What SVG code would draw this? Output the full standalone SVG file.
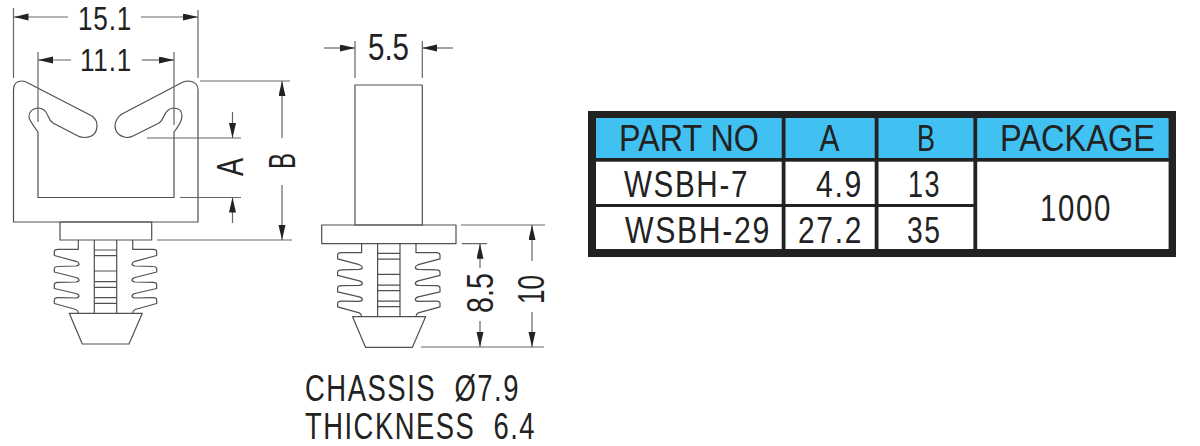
<svg xmlns="http://www.w3.org/2000/svg" xmlns:xlink="http://www.w3.org/1999/xlink" width="1200" height="446" viewBox="0 0 1200 446">
<style>
.o{fill:none;stroke:#505050;stroke-width:1.2;stroke-linejoin:round}
.e{fill:none;stroke:#666;stroke-width:1.2}
.d{fill:none;stroke:#666;stroke-width:1.2;marker-end:url(#ah)}
.t{font-family:"Liberation Sans",Arial,sans-serif;fill:#222;font-size:36px;white-space:pre}
.c{font-size:37px}
.n{font-size:36px;letter-spacing:2px}
.b{fill:#222}
.h{fill:#40c1f2}
.w{fill:#fff}
</style>
<defs>
<marker id="ah" markerUnits="userSpaceOnUse" markerWidth="15" markerHeight="8" refX="15" refY="3.5" orient="auto"><path d="M0 0L15 3.5L0 7Z" fill="#222"/></marker>
<g id="half">
<path class="o" d="M78.3 240V249.3H58Q54.3 249.3 54.3 252V255.5L76 261.3Q79 262.5 79 264Q79 265.5 76 266L58 266.5Q54.3 266.5 54.3 269V272L76 277.5Q79 278.5 79 280Q79 281.5 76 282L58 282.3Q54.3 282.3 54.3 285V288.5L76 293.5Q79 294.5 79 296Q79 297.5 76 298L58 297.7Q54.3 297.7 54.3 300V303.5L76 309.5Q78.3 310.5 78.3 313.3"/>
</g>
<g id="fir">
<use xlink:href="#half" href="#half"/>
<use xlink:href="#half" href="#half" transform="matrix(-1 0 0 1 211 0)"/>
<path class="o" d="M94.3 240V313.3M116.7 240V313.3M94.3 250H116.7M94.3 255.7H116.7M94.3 271H116.7M94.3 281.7H116.7M94.3 287.3H116.7M94.3 297.7H116.7M94.3 303.3H116.7"/>
<path class="o" d="M69.3 313.3H142.3L129 344H82.3Z"/>
</g>
</defs>
<rect width="1200" height="446" fill="#fff"/>
<g id="clip-front">
<path class="o" d="M13.5 222V90Q13.5 81 22 81Q25 81 28 83L92 116Q97 120 97 125Q97 137 85 137.5Q81 137.5 78 136L53 123Q50 121 48 116Q45 108 38 108Q29 109 29 117Q29 120 38 132V197.5H174V132Q182 122 182 116Q182 108 173 108Q167 109 164 116Q162 121 159 123L133 136Q130 137.5 127 137.5Q115 136 115 125Q116 118 122 114L183 82Q186 81 189 81Q198 82 198 90V222Z"/>
<rect class="o" x="60" y="222" width="91.7" height="18"/>
<use xlink:href="#fir" href="#fir"/>
</g>
<g id="clip-side">
<rect class="o" x="355" y="85" width="67.3" height="140"/>
<rect class="o" x="321.7" y="225" width="134.3" height="18.7"/>
<use xlink:href="#fir" href="#fir" transform="translate(283.3 3.4)"/>
</g>
<g id="connectors">
<path class="e" d="M13.5 8V78M198 10V78M38 52V122M174 52V125M147 138H241M180 197.5H241M200 81H290M157 240H292M355 41V78M422.3 41V78M461 225H545M462 243.7H487M421 347H544"/>
<path class="d" d="M68 17H13.5"/><path class="d" d="M141 17H198"/>
<path class="d" d="M71 60H38"/><path class="d" d="M142 60H174"/>
<path class="d" d="M232.5 112V138"/><path class="d" d="M232.5 223V197.5"/>
<path class="d" d="M282 138V81"/><path class="d" d="M282 185V240"/>
<path class="d" d="M324 48H355"/><path class="d" d="M453 48H422.3"/>
<path class="d" d="M480 268V243.7"/><path class="d" d="M480 321V347"/>
<path class="d" d="M532 261V225"/><path class="d" d="M532 312V347"/>
</g>
<g id="dimension-labels">
<text class="t" x="78" y="30" style="font-size:33px;letter-spacing:1px" textLength="54" lengthAdjust="spacingAndGlyphs">15.1</text>
<text class="t" x="80" y="71" style="font-size:32px;letter-spacing:1px" textLength="52" lengthAdjust="spacingAndGlyphs">11.1</text>
<text class="t" transform="translate(243 176) rotate(-90)" textLength="18" lengthAdjust="spacingAndGlyphs">A</text>
<text class="t" transform="translate(295 169) rotate(-90)" textLength="16" lengthAdjust="spacingAndGlyphs">B</text>
<text class="t" x="368" y="60" textLength="41" lengthAdjust="spacingAndGlyphs">5.5</text>
<text class="t" transform="translate(493 313) rotate(-90)" style="font-size:37px" textLength="40" lengthAdjust="spacingAndGlyphs">8.5</text>
<text class="t" transform="translate(544 304) rotate(-90)" textLength="29" lengthAdjust="spacingAndGlyphs">10</text>
</g>
<g id="note">
<text class="t n" x="305" y="400.5" textLength="215" lengthAdjust="spacingAndGlyphs">CHASSIS  Ø7.9</text>
<text class="t n" x="305" y="439" textLength="231" lengthAdjust="spacingAndGlyphs">THICKNESS  6.4</text>
</g>
<g id="table">
<rect class="b" x="588" y="111" width="588" height="146"/>
<rect class="h" x="596" y="118" width="185.7" height="40"/>
<rect class="h" x="785.5" y="118" width="89.2" height="40"/>
<rect class="h" x="878.5" y="118" width="94.9" height="40"/>
<rect class="h" x="977.2" y="118" width="191.4" height="40"/>
<rect class="w" x="596" y="161.7" width="185.7" height="42.3"/>
<rect class="w" x="785.5" y="161.7" width="89.2" height="42.3"/>
<rect class="w" x="878.5" y="161.7" width="94.9" height="42.3"/>
<rect class="w" x="596" y="207" width="185.7" height="42"/>
<rect class="w" x="785.5" y="207" width="89.2" height="42"/>
<rect class="w" x="878.5" y="207" width="94.9" height="42"/>
<rect class="w" x="977.2" y="161.7" width="191.4" height="87.3"/>
<text class="t c" x="619" y="150.5" textLength="140" lengthAdjust="spacingAndGlyphs">PART NO</text>
<text class="t c" x="819.5" y="150.5" textLength="20" lengthAdjust="spacingAndGlyphs">A</text>
<text class="t c" x="917" y="150.5" textLength="18" lengthAdjust="spacingAndGlyphs">B</text>
<text class="t c" x="1000" y="150.5" textLength="155" lengthAdjust="spacingAndGlyphs">PACKAGE</text>
<text class="t n" x="624" y="196.5" textLength="125" lengthAdjust="spacingAndGlyphs">WSBH-7</text>
<text class="t n" x="816" y="196.5" textLength="47" lengthAdjust="spacingAndGlyphs">4.9</text>
<text class="t n" x="908" y="196.5" textLength="33" lengthAdjust="spacingAndGlyphs">13</text>
<text class="t n" x="625" y="243" textLength="146" lengthAdjust="spacingAndGlyphs">WSBH-29</text>
<text class="t n" x="798" y="243" textLength="65" lengthAdjust="spacingAndGlyphs">27.2</text>
<text class="t n" x="907" y="243" textLength="34.5" lengthAdjust="spacingAndGlyphs">35</text>
<text class="t n" x="1040" y="220.5" textLength="72" lengthAdjust="spacingAndGlyphs">1000</text>
</g>
</svg>
